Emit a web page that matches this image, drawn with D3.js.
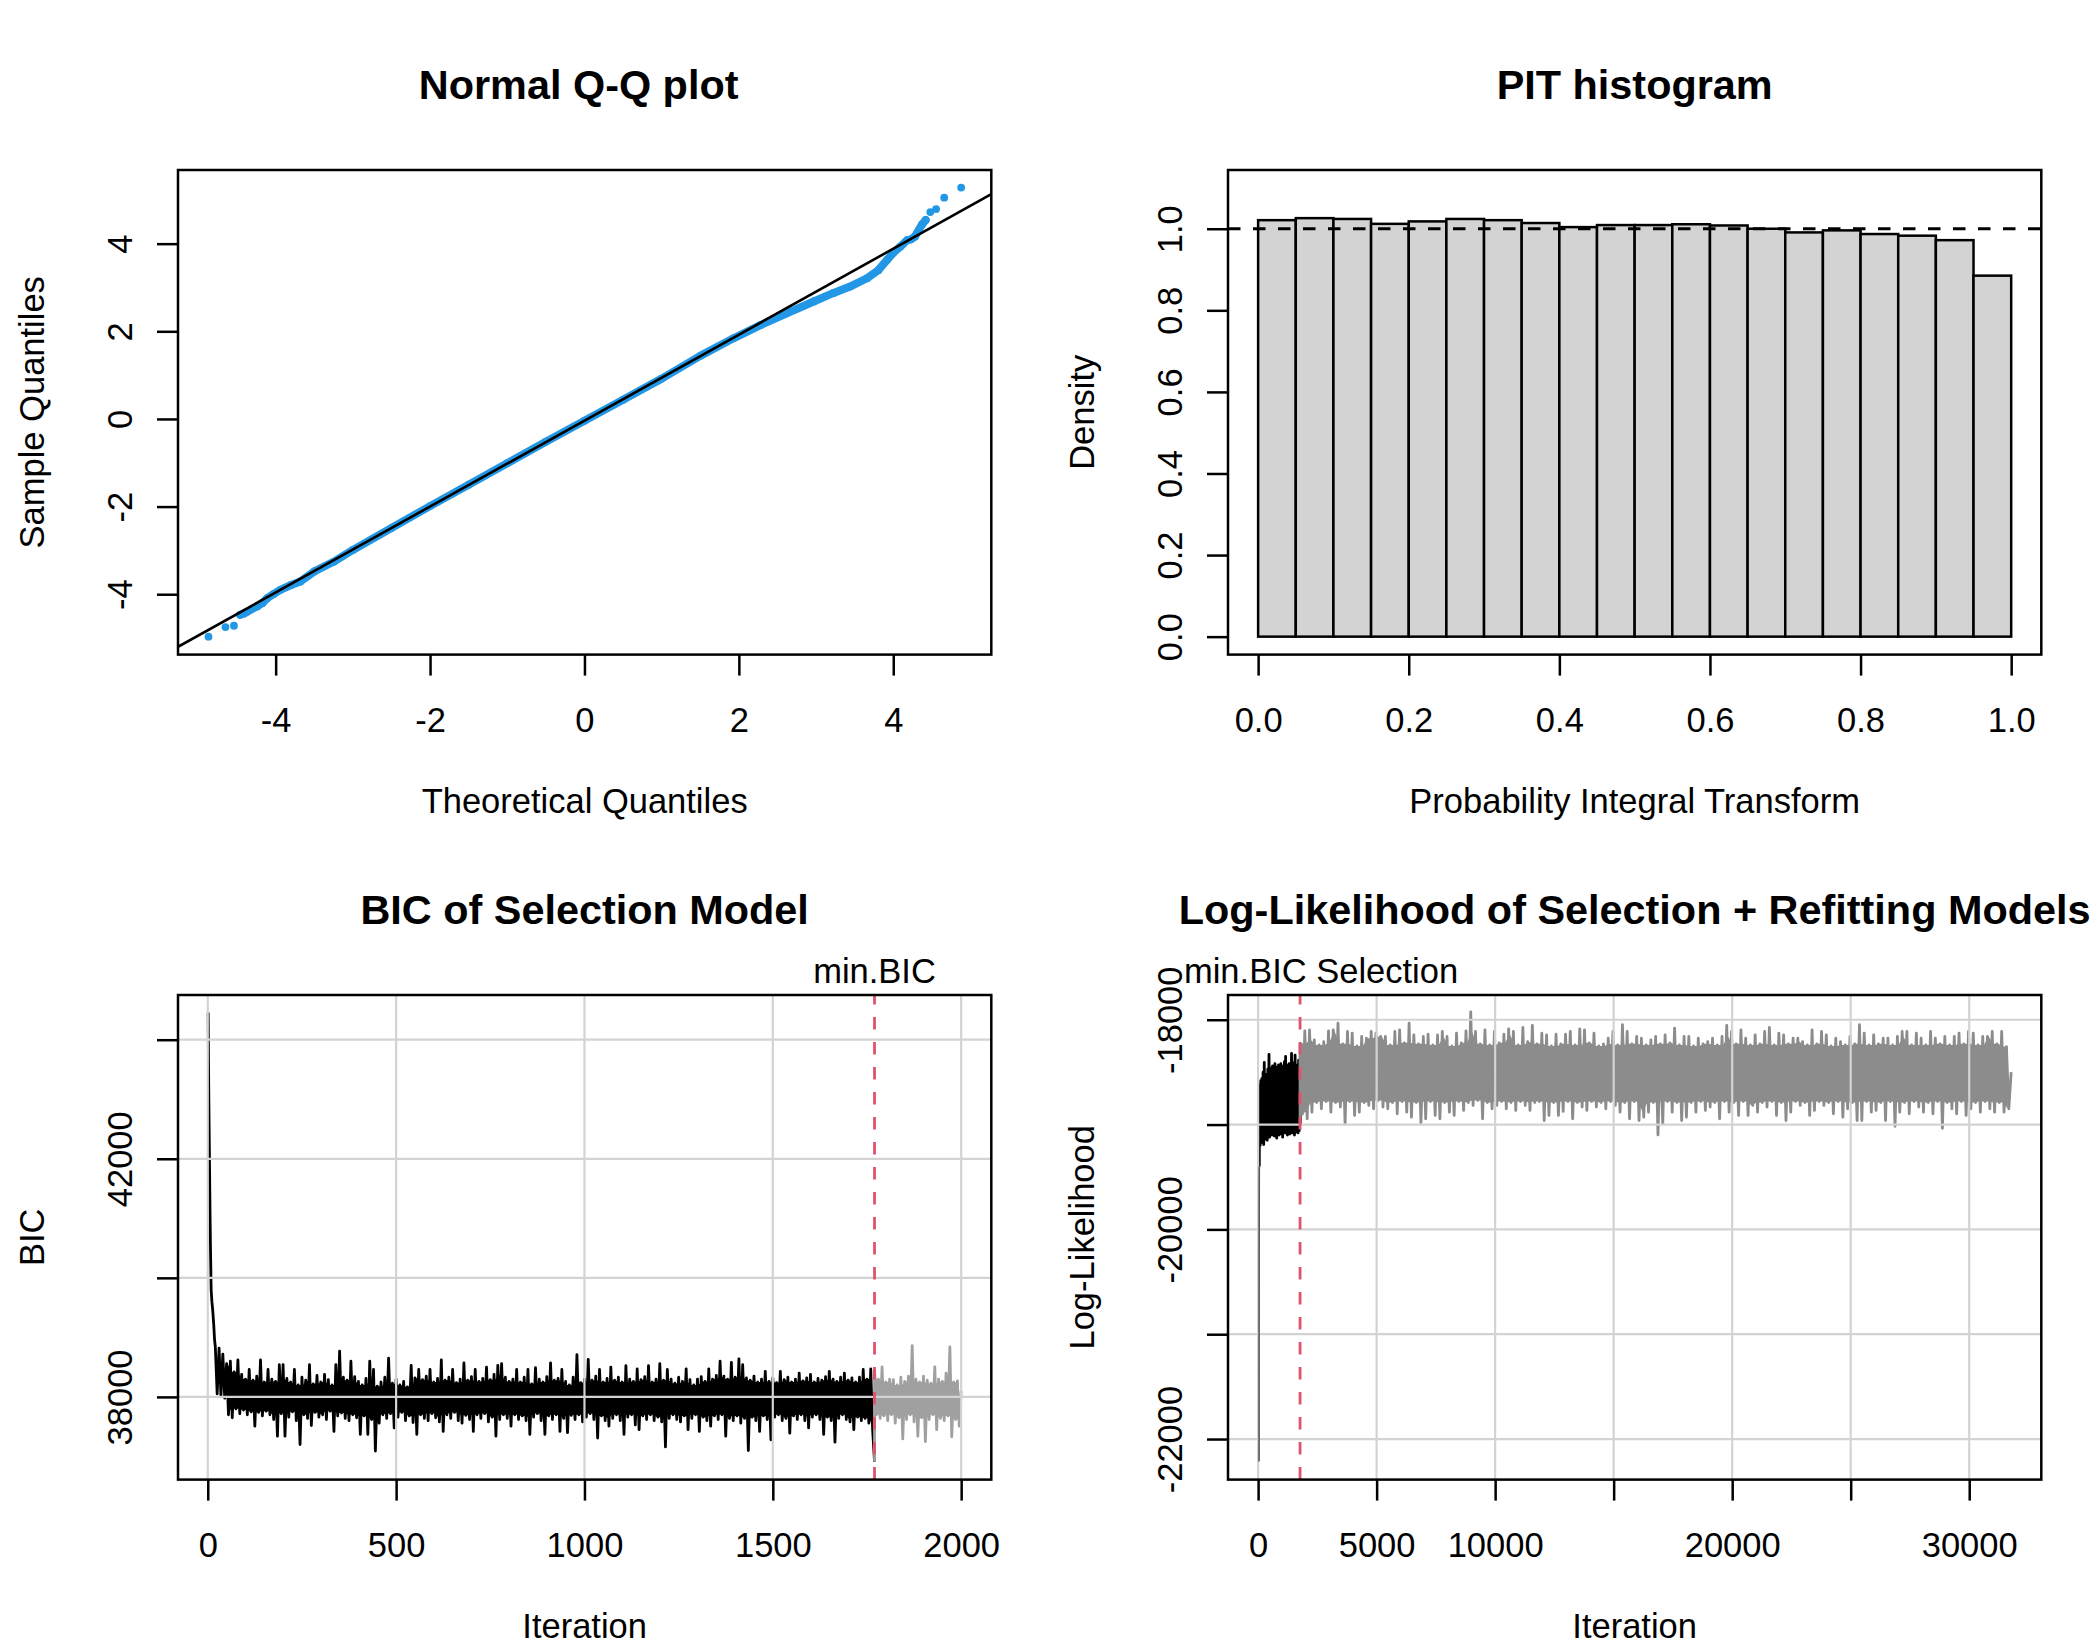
<!DOCTYPE html>
<html>
<head>
<meta charset="utf-8">
<script src="https://cdn.jsdelivr.net/npm/d3@7"></script>
<style>
  body { margin: 0; background: #fff; }
  text { font-family: "Liberation Sans", Arial, sans-serif; }
</style>
</head>
<body>
<div id="chart"></div>
<script>
// ---- Normal Q-Q plot ----
var qqTheoretical = [-4.87,-4.65,-4.54,-4.46,-4.41,-4.37,-4.30,-4.24,-4.17,-4.11,-4.03,-3.94,-3.80,-3.68,-3.50,-3.25,-3.00,-2.50,-2.00,-1.50,-1.00,-0.50,0.00,0.50,1.00,1.50,1.93,2.28,2.62,2.97,3.22,3.44,3.66,3.81,3.92,4.00,4.09,4.18,4.23,4.28,4.33,4.37,4.42,4.48,4.555,4.66,4.88];
var qqSample = [-4.97,-4.75,-4.72,-4.47,-4.44,-4.40,-4.33,-4.28,-4.20,-4.09,-4.00,-3.90,-3.79,-3.71,-3.48,-3.26,-2.99,-2.49,-1.99,-1.50,-1.01,-0.52,-0.04,0.44,0.92,1.44,1.84,2.14,2.41,2.68,2.87,3.02,3.21,3.40,3.63,3.79,3.93,4.08,4.10,4.16,4.31,4.43,4.54,4.72,4.79,5.05,5.28];
var qqLineIntercept = -0.038;
var qqLineSlope = 0.9806;
var qqTicks = [-4, -2, 0, 2, 4];

// ---- PIT histogram ----
var pitBreaks = [0,0.05,0.1,0.15,0.2,0.25,0.3,0.35,0.4,0.45,0.5,0.55,0.6,0.65,0.7,0.75,0.8,0.85,0.9,0.95,1];
var pitDensity = [1.021,1.026,1.024,1.012,1.018,1.024,1.021,1.014,1.004,1.009,1.009,1.011,1.008,1.000,0.991,0.996,0.987,0.983,0.972,0.885];
var pitXTicks = [0, 0.2, 0.4, 0.6, 0.8, 1.0];
var pitYTicks = [0, 0.2, 0.4, 0.6, 0.8, 1.0];

// ---- BIC of selection model ----
var bicDecayIter = [1,2,3,4,5,6,7,8,9,11,13,16,18];
var bicDecayValue = [44455,43600,42900,42300,41700,41100,40600,40200,39800,39600,39470,39200,38960];
// per 10-iteration bin (starting at iteration 20): upper and lower excursions
var bicHi = [
38850,38820,38720,38560,38600,38420,38620,38380,38300,38460,
38280,38350,38620,38250,38460,38300,38260,38540,38540,38310,
38250,38460,38200,38330,38280,38540,38220,38360,38250,38380,
38290,38200,38540,38770,38330,38280,38600,38340,38260,38200,
38310,38600,38460,38180,38250,38330,38650,38230,38300,38200,
38260,38170,38530,38320,38460,38290,38350,38460,38250,38310,
38620,38280,38330,38460,38240,38300,38570,38280,38340,38460,
38260,38310,38500,38290,38380,38530,38560,38330,38260,38300,
38460,38250,38330,38460,38220,38490,38300,38250,38340,38570,
38280,38310,38460,38260,38200,38330,38710,38240,38300,38630,
38280,38350,38460,38250,38310,38500,38280,38330,38250,38526,
38300,38260,38470,38290,38340,38526,38250,38300,38560,38280,
38460,38300,38230,38330,38260,38470,38290,38200,38300,38340,
38260,38470,38300,38360,38600,38350,38300,38580,38330,38640,
38540,38320,38280,38350,38250,38300,38430,38260,38320,38240,
38430,38290,38330,38250,38300,38400,38270,38320,38380,38250,
38310,38280,38340,38430,38300,38260,38330,38400,38280,38320,
38250,38330,38460,38300,38470];
var bicLo = [
38050,38020,37980,37700,37650,37800,37720,37780,37700,37750,
37510,37740,37680,37760,37700,37620,37340,37720,37340,37660,
37750,37600,37200,37700,37640,37520,37740,37660,37700,37620,
37760,37420,37680,37730,37640,37600,37700,37650,37370,37680,
37370,37620,37090,37560,37700,37640,37720,37480,37660,37740,
37600,37680,37570,37370,37700,37640,37600,37720,37650,37580,
37420,37700,37640,37740,37600,37560,37690,37620,37420,37700,
37640,37720,37580,37660,37340,37620,37700,37640,37510,37700,
37620,37680,37600,37370,37660,37720,37600,37370,37680,37620,
37700,37420,37640,37400,37690,37620,37700,37580,37660,37720,
37620,37310,37680,37600,37510,37640,37700,37600,37370,37660,
37700,37530,37450,37680,37620,37700,37600,37660,37580,37160,
37640,37700,37620,37580,37680,37450,37640,37700,37420,37660,
37600,37510,37680,37620,37700,37340,37640,37600,37680,37560,
37640,37100,37660,37600,37420,37680,37620,37280,37660,37700,
37600,37640,37390,37680,37620,37700,37600,37480,37660,37700,
37620,37370,37660,37600,37240,37640,37700,37620,37580,37450,
37660,37600,37640,37560,37450];
var bicMinIter = 1770;
var bicMinValue = 36914;
var bicRefHi = [38480,38300,38504,38250,38300,38290,38200,38330,38260,38350,38862,38300,38250,38350,38280,38230,38504,38300,38260,38400,38840,38250,38270];
var bicRefLo = [37700,37640,37680,37600,37700,37560,37650,37294,37620,37700,37580,37340,37650,37250,37620,37700,37450,37640,37600,37680,37330,37620,37510];
var bicEndValue = 38100;
var bicXTicks = [0, 500, 1000, 1500, 2000];
var bicYTicks = [38000, 40000, 42000, 44000];
var bicYLabels = ["38000", "", "42000", ""];

// ---- Log-likelihood of selection + refitting ----
var llInitIter = [40, 42, 44, 46, 48, 50];
var llInitValue = [-22215, -21000, -20200, -19800, -19550, -19400];
// per 50-iteration bin of the selection run (starting at 60)
var llSelHi = [-18620,-18580,-18560,-18500,-18407,-18540,-18520,-18470,-18330,-18480,-18460,-18440,-18470,-18420,-18450,-18480,-18430,-18460,-18420,-18450,-18440,-18400,-18350,-18430,-18460,-18420,-18440,-18320,-18430,-18410,-18337,-18430,-18440,-18385,-18420];
var llSelLo = [-19200,-19170,-19120,-19190,-19140,-19110,-19150,-19090,-19120,-19080,-19100,-19060,-19110,-19090,-19130,-19070,-19100,-19060,-19090,-19120,-19070,-19080,-19060,-19100,-19070,-19090,-19050,-19080,-19060,-19100,-19070,-19050,-19080,-19060,-19000];
var llSelEnd = -18990;
// per 200-iteration bin of the refitting run (starting at 1770)
var llRefHi = [
-18225,-18106,-18096,-18192,-18240,-18210,-18106,-18096,-18032,-18230,
-18112,-18128,-18250,-18160,-18176,-18112,-18128,-18160,-18160,-18240,
-18112,-18096,-18220,-18032,-18144,-18230,-18160,-18138,-18240,-18144,
-18112,-18160,-18250,-18128,-18220,-18106,-17926,-18112,-18230,-18096,
-18240,-18112,-18220,-18138,-18087,-18112,-18240,-18074,-18210,-18054,
-18230,-18128,-18144,-18250,-18138,-18230,-18138,-18112,-18240,-18087,
-18096,-18220,-18128,-18250,-18230,-18176,-18112,-18240,-18048,-18112,
-18230,-18160,-18176,-18240,-18192,-18160,-18230,-18144,-18220,-18080,
-18240,-18160,-18160,-18250,-18176,-18230,-18208,-18176,-18240,-18160,
-18054,-18112,-18230,-18096,-18176,-18240,-18144,-18230,-18112,-18074,
-18240,-18128,-18144,-18230,-18176,-18176,-18208,-18240,-18096,-18230,
-18112,-18144,-18250,-18176,-18208,-18240,-18160,-18230,-18048,-18128,
-18240,-18144,-18230,-18176,-18176,-18240,-18160,-18112,-18112,-18240,
-18128,-18176,-18240,-18112,-18176,-18230,-18160,-18240,-18160,-18128,
-18230,-18112,-18128,-18240,-18160,-18160,-18112,-18230,-18112,-18256];
var llRefLo = [
-18900,-18945,-18881,-18790,-18849,-18780,-18881,-18790,-18833,-18994,
-18780,-18913,-18881,-18790,-18817,-18849,-18770,-18833,-18849,-18790,
-18897,-18780,-18881,-18929,-18790,-18984,-18945,-18780,-18913,-18945,
-18790,-18881,-18913,-18780,-18865,-18790,-18817,-18770,-18945,-18790,
-18849,-18817,-18780,-18849,-18790,-18865,-18780,-18817,-18865,-18790,
-18780,-18962,-18913,-18790,-18913,-18875,-18780,-18945,-18790,-18833,
-18865,-18780,-18833,-18790,-18849,-18780,-18817,-18881,-18790,-18945,
-18780,-18962,-18929,-18881,-18790,-19099,-18994,-18780,-18881,-18790,
-18962,-18929,-18790,-18881,-18780,-18865,-18833,-18790,-18945,-18780,
-18881,-18790,-18913,-18780,-18913,-18817,-18881,-18790,-18833,-18780,
-18913,-18790,-18962,-18881,-18780,-18817,-18790,-18913,-18865,-18780,
-18817,-18790,-18897,-18780,-18929,-18849,-18790,-18962,-18962,-18780,
-18881,-18865,-18790,-18962,-18780,-19016,-18881,-18790,-18897,-18780,
-18833,-18881,-18790,-18897,-18780,-19035,-18790,-18849,-18897,-18780,
-18913,-18849,-18790,-18881,-18780,-18849,-18881,-18790,-18881,-18849];
var llLastIter = 31770;
var llEndValue = -18500;
var llXTicks = [0, 5000, 10000, 15000, 20000, 25000, 30000];
var llXLabels = ["0", "5000", "10000", "", "20000", "", "30000"];
var llYTicks = [-22000, -21000, -20000, -19000, -18000];
var llYLabels = ["-22000", "", "-20000", "", "-18000"];

// ---- layout ----
var svgWidth = 2099;
var svgHeight = 1650;
var panelW = 1050, panelH = 825;
var box = { left: 178, right: 991.3, top: 170, bottom: 654.6 };
var fontAxis = 34.5, fontMain = 41.4;
var redCol = "#DF536B", blueCol = "#2297E6", gridCol = "#D3D3D3";

var svg = d3.select("#chart")
  .append("svg")
  .attr("width", svgWidth)
  .attr("height", svgHeight);
svg.append("rect").attr("width", svgWidth).attr("height", svgHeight).attr("fill", "#fff");

function makePanel(col, row, id) {
  var g = svg.append("g").attr("transform", `translate(${col * panelW}, ${row * panelH})`);
  g.append("clipPath").attr("id", id)
    .append("rect")
    .attr("x", box.left).attr("y", box.top)
    .attr("width", box.right - box.left).attr("height", box.bottom - box.top);
  return g;
}

function styleAxis(ax) {
  ax.attr("font-size", fontAxis).attr("font-family", "Liberation Sans, Arial, sans-serif");
  ax.select(".domain").remove();
  ax.selectAll(".tick line").attr("stroke", "#000").attr("stroke-width", 2.5);
  ax.selectAll(".tick text").attr("fill", "#000");
}

function drawXAxis(g, scale, ticks, labels) {
  var axis = d3.axisBottom(scale)
    .tickValues(ticks)
    .tickSizeInner(21).tickSizeOuter(0)
    .tickFormat((d, i) => labels[i]);
  var ax = g.append("g").attr("transform", `translate(0, ${box.bottom})`).call(axis);
  styleAxis(ax);
  ax.selectAll(".tick text").attr("y", 77).attr("dy", null);
}

function drawYAxis(g, scale, ticks, labels) {
  var axis = d3.axisLeft(scale)
    .tickValues(ticks)
    .tickSizeInner(21).tickSizeOuter(0)
    .tickFormat((d, i) => labels[i]);
  var ax = g.append("g").attr("transform", `translate(${box.left}, 0)`).call(axis);
  styleAxis(ax);
  ax.selectAll(".tick text")
    .attr("x", null).attr("dy", null)
    .attr("text-anchor", "middle")
    .attr("transform", "translate(-46,0) rotate(-90)");
}

function drawLabels(g, main, xlab, ylab, mainShift) {
  var cx = (box.left + box.right) / 2;
  g.append("text").attr("x", cx + (mainShift || 0)).attr("y", 99)
    .attr("text-anchor", "middle").attr("font-weight", "bold").attr("font-size", fontMain)
    .text(main);
  g.append("text").attr("x", cx).attr("y", 812.7)
    .attr("text-anchor", "middle").attr("font-size", fontAxis)
    .text(xlab);
  g.append("text")
    .attr("transform", `translate(44, ${(box.top + box.bottom) / 2}) rotate(-90)`)
    .attr("text-anchor", "middle").attr("font-size", fontAxis)
    .text(ylab);
}

function drawBox(g) {
  g.append("rect")
    .attr("x", box.left).attr("y", box.top)
    .attr("width", box.right - box.left).attr("height", box.bottom - box.top)
    .attr("fill", "none").attr("stroke", "#000").attr("stroke-width", 2.5);
}

function drawGrid(g, x, y, xt, yt) {
  g.append("g").selectAll("line.gx").data(xt).enter().append("line")
    .attr("x1", d => x(d)).attr("x2", d => x(d))
    .attr("y1", box.top).attr("y2", box.bottom)
    .attr("stroke", gridCol).attr("stroke-width", 2.2);
  g.append("g").selectAll("line.gy").data(yt).enter().append("line")
    .attr("y1", d => y(d)).attr("y2", d => y(d))
    .attr("x1", box.left).attr("x2", box.right)
    .attr("stroke", gridCol).attr("stroke-width", 2.2);
}

// zigzag points from bin starts and hi/lo excursions
function zigzag(starts, hi, lo, half) {
  var pts = [];
  starts.forEach(function(t, k) {
    pts.push([t, hi[k]]);
    pts.push([t + half, lo[k]]);
  });
  return pts;
}

// solid core of a band: narrowest envelope of neighbouring bins
function coreBand(starts, hi, lo, half) {
  return starts.map(function(t, k) {
    var a = Math.max(0, k - 1), b = Math.min(hi.length - 1, k + 1);
    return { t: t + half / 2, top: d3.min(hi.slice(a, b + 1)), bot: d3.max(lo.slice(a, b + 1)) };
  });
}

// ================= Panel 1: Normal Q-Q plot =================
var p1 = makePanel(0, 0, "clip1");
var qqX = d3.scaleLinear().domain([-5.265, 5.27]).range([box.left, box.right]);
var qqY = d3.scaleLinear().domain([-5.378, 5.681]).range([box.bottom, box.top]);
var qqData = qqTheoretical.map((d, i) => ({ x: d, y: qqSample[i] }));
var qqPlot = p1.append("g").attr("clip-path", "url(#clip1)");

// the dense middle of the sample forms a continuous band
qqPlot.append("path")
  .datum(qqData.slice(3, 43))
  .attr("d", d3.line().x(d => qqX(d.x)).y(d => qqY(d.y)))
  .attr("fill", "none").attr("stroke", blueCol).attr("stroke-width", 8)
  .attr("stroke-linecap", "round").attr("stroke-linejoin", "round");
qqPlot.selectAll("circle").data(qqData).enter().append("circle")
  .attr("cx", d => qqX(d.x)).attr("cy", d => qqY(d.y))
  .attr("r", 3.9).attr("fill", blueCol);
var qqDom = qqX.domain();
qqPlot.append("line")
  .attr("x1", qqX(qqDom[0])).attr("y1", qqY(qqLineIntercept + qqLineSlope * qqDom[0]))
  .attr("x2", qqX(qqDom[1])).attr("y2", qqY(qqLineIntercept + qqLineSlope * qqDom[1]))
  .attr("stroke", "#000").attr("stroke-width", 2.6);
drawBox(p1);
drawXAxis(p1, qqX, qqTicks, qqTicks.map(String));
drawYAxis(p1, qqY, qqTicks, qqTicks.map(String));
drawLabels(p1, "Normal Q-Q plot", "Theoretical Quantiles", "Sample Quantiles", -6);

// ================= Panel 2: PIT histogram =================
var p2 = makePanel(1, 0, "clip2");
var pitX = d3.scaleLinear().domain([-0.04, 1.04]).range([box.left, box.right]);
var pitY = d3.scaleLinear().domain([-0.044, 1.144]).range([box.bottom, box.top]);
p2.append("g").selectAll("rect").data(pitDensity).enter().append("rect")
  .attr("x", (d, i) => pitX(pitBreaks[i]))
  .attr("width", (d, i) => pitX(pitBreaks[i + 1]) - pitX(pitBreaks[i]))
  .attr("y", d => pitY(d))
  .attr("height", d => pitY(0) - pitY(d))
  .attr("fill", "#D3D3D3").attr("stroke", "#000").attr("stroke-width", 2.5);
p2.append("line")
  .attr("clip-path", "url(#clip2)")
  .attr("x1", box.left).attr("x2", box.right)
  .attr("y1", pitY(1)).attr("y2", pitY(1))
  .attr("stroke", "#000").attr("stroke-width", 3).attr("stroke-dasharray", "12.5,12.5");
drawBox(p2);
drawXAxis(p2, pitX, pitXTicks, pitXTicks.map(d => d.toFixed(1)));
drawYAxis(p2, pitY, pitYTicks, pitYTicks.map(d => d.toFixed(1)));
drawLabels(p2, "PIT histogram", "Probability Integral Transform", "Density");

// ================= Panel 3: BIC trace =================
var p3 = makePanel(0, 1, "clip3");
var bicX = d3.scaleLinear().domain([-79, 2080]).range([box.left, box.right]);
var bicY = d3.scaleLinear().domain([36611, 44751]).range([box.bottom, box.top]);
var bicLine = d3.line().x(d => bicX(d[0])).y(d => bicY(d[1]));
var bicBand = d3.area().x(d => bicX(d.t)).y0(d => bicY(d.bot)).y1(d => bicY(d.top));
var bicPlot = p3.append("g").attr("clip-path", "url(#clip3)");

var bicSelStart = d3.range(20, bicMinIter, 10);
var bicSelPts = bicDecayIter.map((t, i) => [t, bicDecayValue[i]])
  .concat(zigzag(bicSelStart, bicHi, bicLo, 5))
  .concat([[bicMinIter, bicMinValue]]);
var bicRefStart = d3.range(bicMinIter, 2000, 10);
var bicRefPts = [[bicMinIter, bicMinValue]]
  .concat(zigzag(bicRefStart, bicRefHi, bicRefLo, 5))
  .concat([[2000, bicEndValue]]);

bicPlot.append("path").datum(coreBand(bicSelStart.slice(3), bicHi.slice(3), bicLo.slice(3), 5))
  .attr("d", bicBand).attr("fill", "#000");
bicPlot.append("path").datum(bicSelPts).attr("d", bicLine)
  .attr("fill", "none").attr("stroke", "#000").attr("stroke-width", 2.8).attr("stroke-linejoin", "round");
bicPlot.append("path").datum(coreBand(bicRefStart, bicRefHi, bicRefLo, 5))
  .attr("d", bicBand).attr("fill", "#A0A0A0");
bicPlot.append("path").datum(bicRefPts).attr("d", bicLine)
  .attr("fill", "none").attr("stroke", "#A0A0A0").attr("stroke-width", 2.8).attr("stroke-linejoin", "round");
drawGrid(bicPlot, bicX, bicY, bicXTicks, bicYTicks);
bicPlot.append("line")
  .attr("x1", bicX(bicMinIter)).attr("x2", bicX(bicMinIter))
  .attr("y1", box.bottom).attr("y2", box.top)
  .attr("stroke", redCol).attr("stroke-width", 2.8).attr("stroke-dasharray", "12.5,12.5");
p3.append("text").attr("x", bicX(bicMinIter)).attr("y", box.top - 12)
  .attr("text-anchor", "middle").attr("font-size", fontAxis).text("min.BIC");
drawBox(p3);
drawXAxis(p3, bicX, bicXTicks, bicXTicks.map(String));
drawYAxis(p3, bicY, bicYTicks, bicYLabels);
drawLabels(p3, "BIC of Selection Model", "Iteration", "BIC");

// ================= Panel 4: Log-likelihood trace =================
var p4 = makePanel(1, 1, "clip4");
var llX = d3.scaleLinear().domain([-1270, 33041]).range([box.left, box.right]);
var llY = d3.scaleLinear().domain([-22387, -17764]).range([box.bottom, box.top]);
var llLine = d3.line().x(d => llX(d[0])).y(d => llY(d[1]));
var llBand = d3.area().x(d => llX(d.t)).y0(d => llY(d.bot)).y1(d => llY(d.top));
var llPlot = p4.append("g").attr("clip-path", "url(#clip4)");

var llSelStart = d3.range(60, bicMinIter, 50);
var llSelPts = [[llInitIter[llInitIter.length - 1], llInitValue[llInitValue.length - 1]]]
  .concat(zigzag(llSelStart, llSelHi, llSelLo, 25))
  .concat([[bicMinIter, llSelEnd]]);
var llRefStart = d3.range(bicMinIter, llLastIter, 200);
var llRefPts = [[bicMinIter, llSelEnd]]
  .concat(zigzag(llRefStart, llRefHi, llRefLo, 100))
  .concat([[llLastIter, llEndValue]]);

llPlot.append("path").datum(coreBand(llSelStart, llSelHi, llSelLo, 25))
  .attr("d", llBand).attr("fill", "#000");
llPlot.append("path").datum(llSelPts).attr("d", llLine)
  .attr("fill", "none").attr("stroke", "#000").attr("stroke-width", 2.8).attr("stroke-linejoin", "round");
llPlot.append("path").datum(coreBand(llRefStart, llRefHi, llRefLo, 100))
  .attr("d", llBand).attr("fill", "#8C8C8C");
llPlot.append("path").datum(llRefPts).attr("d", llLine)
  .attr("fill", "none").attr("stroke", "#8C8C8C").attr("stroke-width", 2.8).attr("stroke-linejoin", "round");
drawGrid(llPlot, llX, llY, llXTicks, llYTicks);
// the first iterations: a thin, nearly vertical climb beside the zero grid line
llPlot.append("path").datum(llInitIter.map((t, i) => [t, llInitValue[i]])).attr("d", llLine)
  .attr("fill", "none").attr("stroke", "#555").attr("stroke-width", 1.6);
llPlot.append("line")
  .attr("x1", llX(bicMinIter)).attr("x2", llX(bicMinIter))
  .attr("y1", box.bottom).attr("y2", box.top)
  .attr("stroke", redCol).attr("stroke-width", 2.8).attr("stroke-dasharray", "12.5,12.5");
p4.append("text").attr("x", llX(bicMinIter) + 21).attr("y", box.top - 12)
  .attr("text-anchor", "middle").attr("font-size", fontAxis).text("min.BIC Selection");
drawBox(p4);
drawXAxis(p4, llX, llXTicks, llXLabels);
drawYAxis(p4, llY, llYTicks, llYLabels);
drawLabels(p4, "Log-Likelihood of Selection + Refitting Models", "Iteration", "Log-Likelihood");
</script>
</body>
</html>
